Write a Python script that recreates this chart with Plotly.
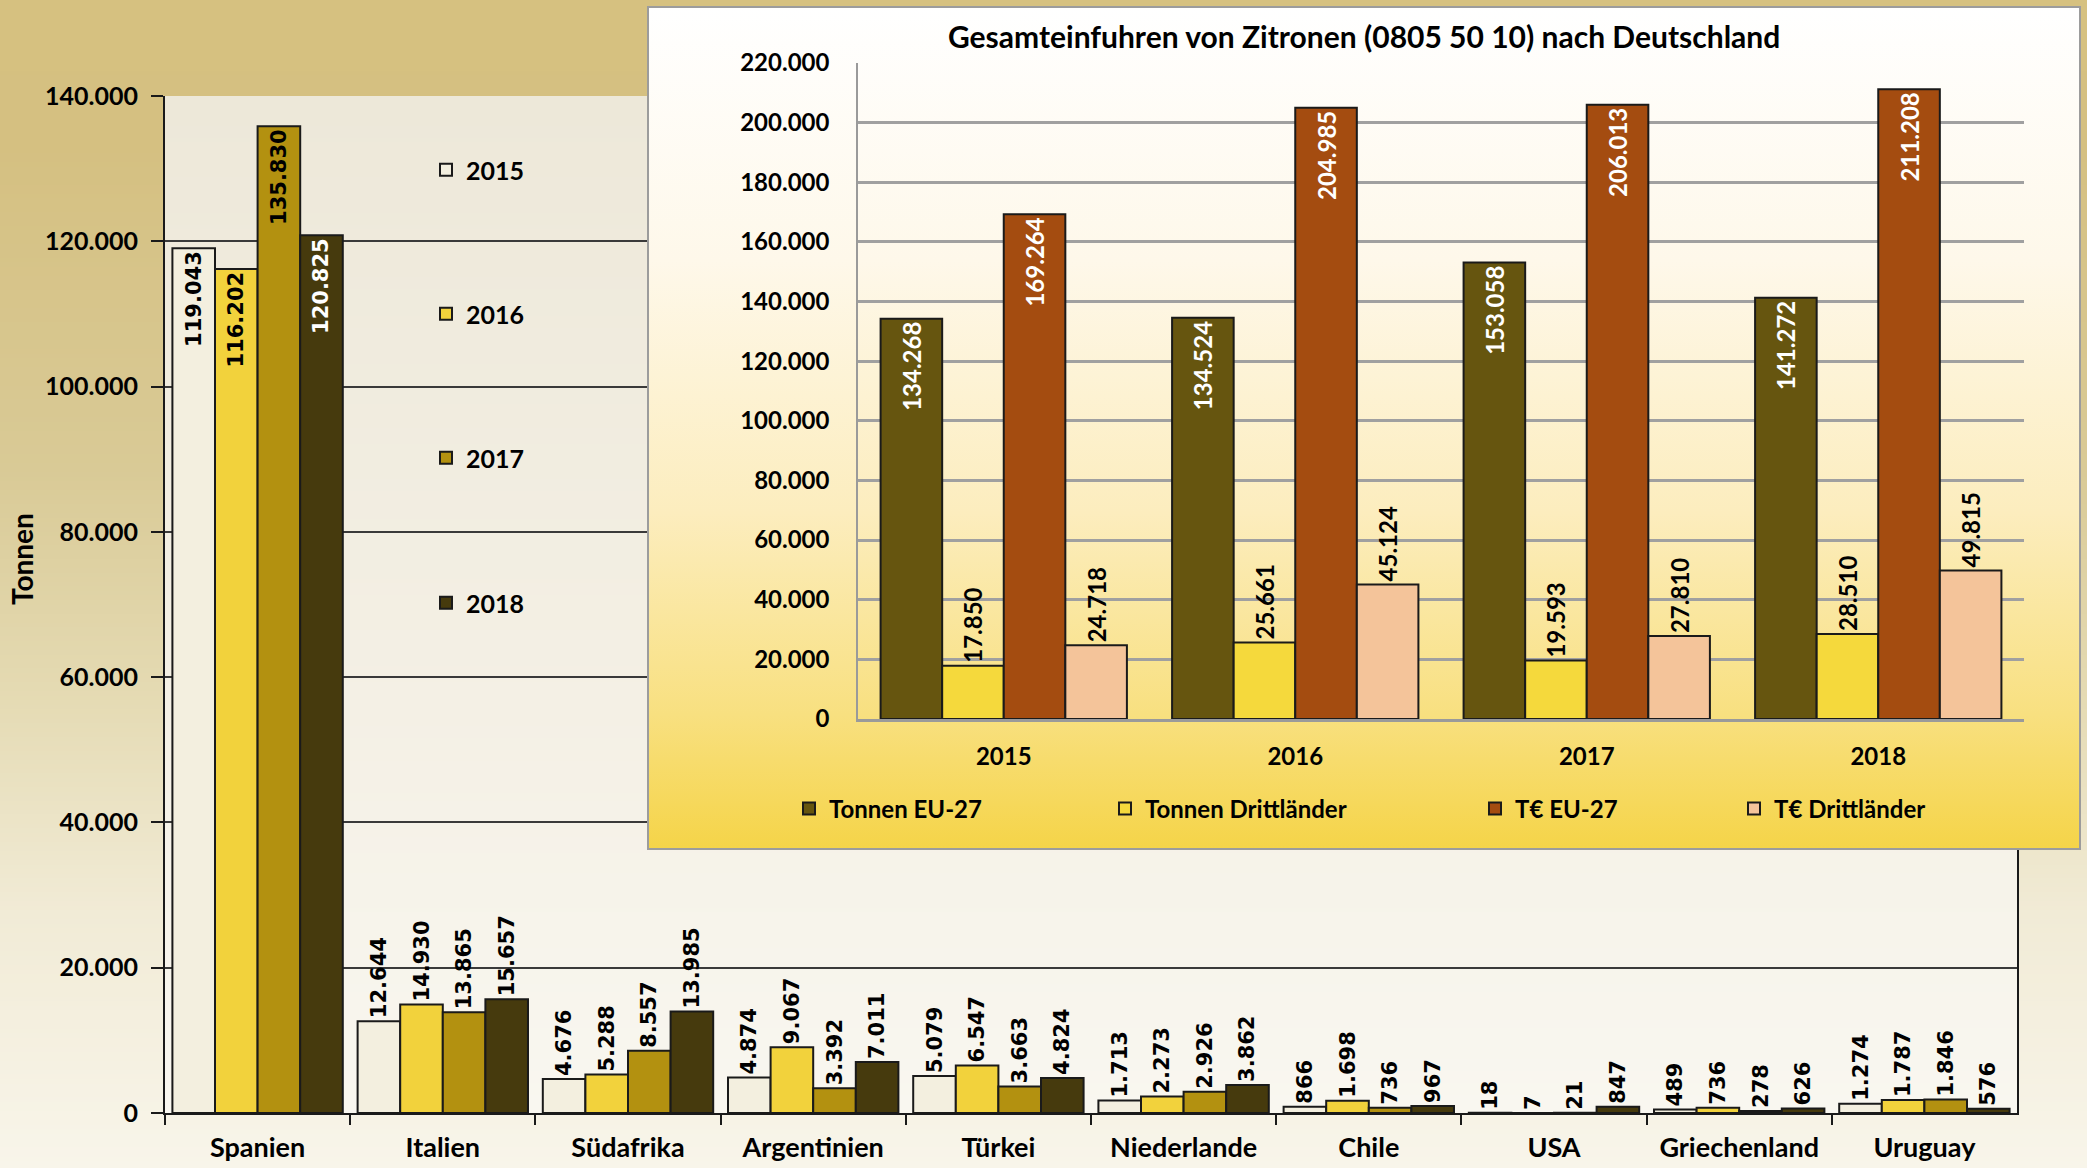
import base64
import struct
import zlib
import plotly.graph_objects as go

# ---------------- data ----------------
countries = ["Spanien", "Italien", "Südafrika", "Argentinien", "Türkei",
             "Niederlande", "Chile", "USA", "Griechenland", "Uruguay"]
tonnen_2015 = [119043, 12644, 4676, 4874, 5079, 1713, 866, 18, 489, 1274]
tonnen_2016 = [116202, 14930, 5288, 9067, 6547, 2273, 1698, 7, 736, 1787]
tonnen_2017 = [135830, 13865, 8557, 3392, 3663, 2926, 736, 21, 278, 1846]
tonnen_2018 = [120825, 15657, 13985, 7011, 4824, 3862, 967, 847, 626, 576]
main_years = ["2015", "2016", "2017", "2018"]

inset_years = ["2015", "2016", "2017", "2018"]
tonnen_eu27 = [134268, 134524, 153058, 141272]
tonnen_dritt = [17850, 25661, 19593, 28510]
teuro_eu27 = [169264, 204985, 206013, 211208]
teuro_dritt = [24718, 45124, 27810, 49815]
inset_names = ["Tonnen EU-27", "Tonnen Drittländer", "T€ EU-27", "T€ Drittländer"]

W, H = 2087, 1168


# ---------------- helpers ----------------
def gradient_png(stops, w=4, h=256):
    rows = []
    for j in range(h):
        t = j / (h - 1)
        for k in range(len(stops) - 1):
            t0, c0 = stops[k]
            t1, c1 = stops[k + 1]
            if t0 <= t <= t1:
                f = 0 if t1 == t0 else (t - t0) / (t1 - t0)
                c = [int(round(c0[i] + (c1[i] - c0[i]) * f)) for i in range(3)]
                break
        rows.append(b"\x00" + bytes(c) * w)
    raw = b"".join(rows)

    def chunk(tag, data):
        return (struct.pack(">I", len(data)) + tag + data +
                struct.pack(">I", zlib.crc32(tag + data) & 0xFFFFFFFF))

    png = (b"\x89PNG\r\n\x1a\n" +
           chunk(b"IHDR", struct.pack(">IIBBBBB", w, h, 8, 2, 0, 0, 0)) +
           chunk(b"IDAT", zlib.compress(raw, 9)) + chunk(b"IEND", b""))
    return "data:image/png;base64," + base64.b64encode(png).decode()


def px_x(p):
    return p / W


def px_y(p):
    return 1 - p / H


page_bg = gradient_png([(0.0, (214, 193, 128)), (0.12, (213, 192, 129)),
                        (0.40, (217, 202, 150)), (0.60, (229, 219, 180)),
                        (0.78, (241, 235, 214)), (1.0, (248, 245, 234))])
main_bg = gradient_png([(0.0, (237, 232, 217)), (0.6, (244, 240, 229)),
                        (1.0, (249, 247, 240))])

LABEL_FONT = "Lato"
VALUE_FONT = "DejaVu Sans"

fig = go.Figure()

# ---------------- main chart ----------------
main_colors = ["#F3EFDF", "#F2D23C", "#B39110", "#463A0D"]
main_inside_text = ["#000000", "#000000", "#000000", "#FFFFFF"]
main_series = [tonnen_2015, tonnen_2016, tonnen_2017, tonnen_2018]
main_legend_ids = ["legend", "legend2", "legend3", "legend4"]

for name, vals, col, itc, lg in zip(main_years, main_series, main_colors,
                                    main_inside_text, main_legend_ids):
    pos = ["inside" if v > 50000 else "outside" for v in vals]
    tcol = [itc if p == "inside" else "#000000" for p in pos]
    fig.add_trace(go.Bar(
        x=countries, y=vals, name=name, xaxis="x", yaxis="y",
        marker=dict(color=col, line=dict(color="#1a1a1a", width=2)),
        texttemplate="%{y:,.0f}", textposition=pos, textangle=-90,
        insidetextanchor="end", constraintext="none",
        textfont=dict(family=VALUE_FONT, size=21, weight="bold", color=tcol),
        legend=lg, hoverinfo="skip",
    ))

# ---------------- inset panel background (own subplot, above main chart) ----
fig.add_trace(go.Scatter(
    x=[0, 1, 1, 0, 0], y=[0, 0, 1, 1, 0], xaxis="x2", yaxis="y2",
    mode="none", fill="toself",
    fillgradient=dict(type="vertical", colorscale=[
        [0.0, "rgb(245,212,72)"], [0.16, "rgb(248,224,128)"],
        [0.40, "rgb(252,237,190)"], [0.70, "rgb(254,248,234)"],
        [1.0, "rgb(255,255,255)"]]),
    showlegend=False, hoverinfo="skip", hoveron="fills",
))

# ---------------- inset chart ----------------
inset_colors = ["#66550F", "#F5D93C", "#A44C10", "#F4C49A"]
inset_series = [tonnen_eu27, tonnen_dritt, teuro_eu27, teuro_dritt]
inset_inside = [True, False, True, False]
inset_legend_ids = ["legend5", "legend6", "legend7", "legend8"]
group_w = 0.845
bar_w = group_w / 4

for i, (name, vals, col, ins, lg) in enumerate(zip(inset_names, inset_series,
                                                    inset_colors, inset_inside,
                                                    inset_legend_ids)):
    fig.add_trace(go.Bar(
        x=inset_years, y=vals, name=name, xaxis="x3", yaxis="y3",
        width=bar_w, offset=-group_w / 2 + i * bar_w,
        marker=dict(color=col, line=dict(color="#1a1a1a", width=2)),
        texttemplate="%{y:,.0f}",
        textposition="inside" if ins else "outside", textangle=-90,
        insidetextanchor="end", constraintext="none",
        textfont=dict(family=LABEL_FONT, size=24, weight="bold",
                      color="#FFFFFF" if ins else "#000000"),
        legend=lg, hoverinfo="skip",
    ))

# ---------------- layout ----------------
main_dom_x = [px_x(165), px_x(2017)]
main_dom_y = [px_y(1113), px_y(96)]
box_dom_x = [px_x(648), px_x(2080)]
box_dom_y = [px_y(849), px_y(7)]
inset_dom_x = [px_x(858), px_x(2024)]
inset_dom_y = [px_y(719), px_y(63)]

tick_font = dict(family=LABEL_FONT, size=25, weight="bold", color="#000000")
cat_font = dict(family=LABEL_FONT, size=27, weight="bold", color="#000000")

legends = {}
main_leg_y = [170, 314, 458, 603]
for lg, yy in zip(main_legend_ids, main_leg_y):
    legends[lg] = dict(x=px_x(426), y=px_y(yy), xanchor="left", yanchor="middle",
                       bgcolor="rgba(0,0,0,0)", borderwidth=0,
                       font=dict(family=LABEL_FONT, size=25, weight="bold",
                                 color="#000000"))
inset_leg_x = [789, 1105, 1475, 1734]
for lg, xx in zip(inset_legend_ids, inset_leg_x):
    legends[lg] = dict(x=px_x(xx), y=px_y(809), xanchor="left", yanchor="middle",
                       bgcolor="rgba(0,0,0,0)", borderwidth=0,
                       font=dict(family=LABEL_FONT, size=24, weight="bold",
                                 color="#000000"))

fig.update_layout(
    template="none",
    width=W, height=H, autosize=False,
    margin=dict(l=0, r=0, t=0, b=0, pad=0),
    paper_bgcolor="#F3EEDC", plot_bgcolor="rgba(0,0,0,0)",
    separators=",.",
    barmode="group", bargap=0.08, bargroupgap=0,
    showlegend=True,
    xaxis=dict(domain=main_dom_x, anchor="y", type="category", automargin=False,
               showline=True, linecolor="#1a1a1a", linewidth=2,
               ticks="outside", tickson="boundaries", ticklen=10,
               tickcolor="#1a1a1a", tickwidth=1.5, ticklabelstandoff=10,
               tickfont=cat_font, showgrid=False, zeroline=False),
    yaxis=dict(domain=main_dom_y, anchor="x", range=[0, 140000], dtick=20000,
               automargin=False,
               tickformat=",.0f", showline=True, linecolor="#1a1a1a",
               linewidth=2, mirror=True, ticks="outside", ticklen=12,
               tickcolor="#1a1a1a", tickwidth=1.5, ticklabelstandoff=8,
               tickfont=tick_font, showgrid=True, gridcolor="#3a3a3a",
               gridwidth=2, zeroline=False),
    xaxis2=dict(domain=box_dom_x, anchor="y2", range=[0, 1], visible=False,
                automargin=False, fixedrange=True),
    yaxis2=dict(domain=box_dom_y, anchor="x2", range=[0, 1], visible=False,
                automargin=False, fixedrange=True),
    xaxis3=dict(domain=inset_dom_x, anchor="y3", type="category",
                automargin=False,
                showline=True, linecolor="#9a9a9a", linewidth=3, ticks="",
                ticklabelstandoff=14, tickfont=dict(family=LABEL_FONT, size=24,
                                                    weight="bold", color="#000000"),
                showgrid=False, zeroline=False),
    yaxis3=dict(domain=inset_dom_y, anchor="x3", range=[0, 220000], dtick=20000,
                automargin=False,
                tickformat=",.0f", showline=True, linecolor="#9a9a9a",
                linewidth=1.5, ticks="", ticklabelstandoff=22,
                tickfont=dict(family=LABEL_FONT, size=24, weight="bold",
                              color="#000000"),
                showgrid=True, gridcolor="#a0a0a0", gridwidth=3, zeroline=False),
    images=[
        dict(source=page_bg, xref="paper", yref="paper", x=0, y=1, sizex=1,
             sizey=1, xanchor="left", yanchor="top", sizing="stretch",
             layer="below"),
        dict(source=main_bg, xref="x domain", yref="y domain", x=0, y=1,
             sizex=1, sizey=1, xanchor="left", yanchor="top", sizing="stretch",
             layer="below"),
    ],
    shapes=[
        dict(type="rect", xref="paper", yref="paper",
             x0=box_dom_x[0], x1=box_dom_x[1], y0=box_dom_y[0], y1=box_dom_y[1],
             line=dict(color="#9c9c9c", width=2), fillcolor="rgba(0,0,0,0)",
             layer="above"),
    ],
    annotations=[
        dict(text="Gesamteinfuhren von Zitronen (0805 50 10) nach Deutschland",
             x=px_x(1364), y=px_y(36), xref="paper", yref="paper",
             showarrow=False, xanchor="center", yanchor="middle",
             font=dict(family=LABEL_FONT, size=30, weight="bold", color="#000000")),
        dict(text="Tonnen", x=px_x(22), y=px_y(559), xref="paper", yref="paper",
             showarrow=False, textangle=-90, xanchor="center", yanchor="middle",
             font=dict(family=LABEL_FONT, size=28, weight="bold", color="#000000")),
    ],
    **legends,
)

fig.write_html("out.html", config={"displayModeBar": False},
               post_script="document.body.style.margin='0px';")
